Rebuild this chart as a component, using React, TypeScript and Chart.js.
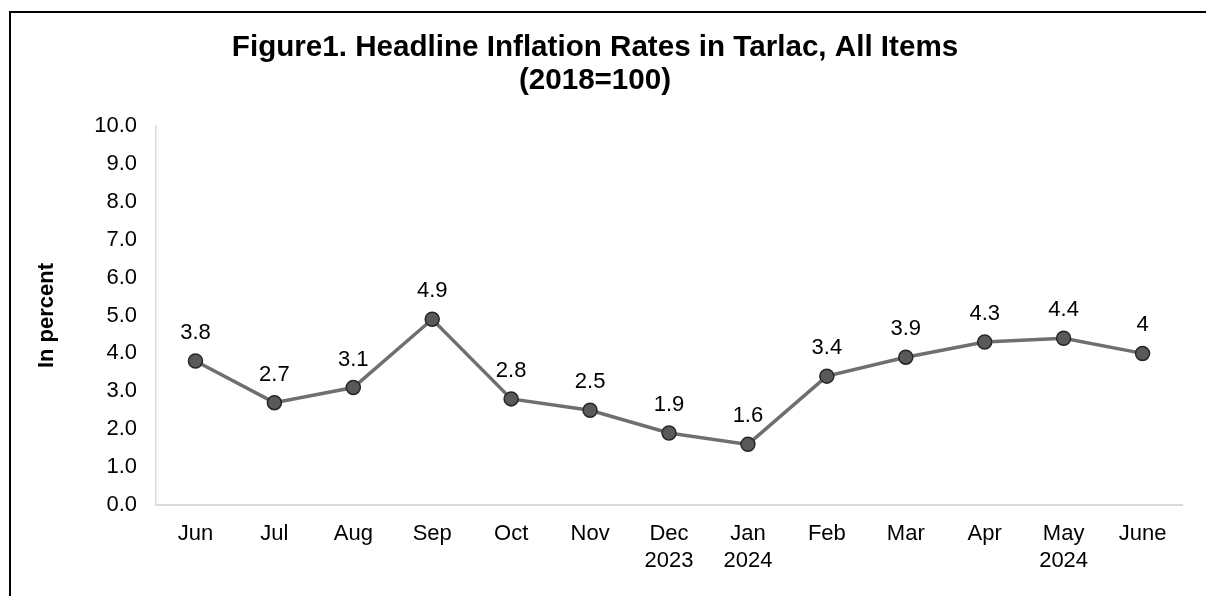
import React, { useEffect, useRef } from "react";
import { Chart, registerables } from "chart.js";

Chart.register(...registerables);

const categories: (string | string[])[] = [
  "Jun", "Jul", "Aug", "Sep", "Oct", "Nov", ["Dec", "2023"], ["Jan", "2024"],
  "Feb", "Mar", "Apr", ["May", "2024"], "June",
];
const inflationValues: number[] = [3.8, 2.7, 3.1, 4.9, 2.8, 2.5, 1.9, 1.6, 3.4, 3.9, 4.3, 4.4, 4];
const valueLabels: string[] = ["3.8", "2.7", "3.1", "4.9", "2.8", "2.5", "1.9", "1.6", "3.4", "3.9", "4.3", "4.4", "4"];
const titleLines: string[] = ["Figure1. Headline Inflation Rates in Tarlac, All Items", "(2018=100)"];
const yAxisTitle = "In percent";

const FONT = "'Liberation Sans', Arial, sans-serif";

const frameAndLabels = {
  id: "frameAndLabels",
  afterDraw(chart: any) {
    const { ctx } = chart;
    ctx.save();
    ctx.strokeStyle = "#000";
    ctx.lineWidth = 2;
    ctx.beginPath();
    ctx.moveTo(10, 600);
    ctx.lineTo(10, 12);
    ctx.lineTo(1210, 12);
    ctx.stroke();

    const meta = chart.getDatasetMeta(0);
    ctx.fillStyle = "#000";
    ctx.font = `22px ${FONT}`;
    ctx.textAlign = "center";
    ctx.textBaseline = "alphabetic";
    meta.data.forEach((pt: any, i: number) => {
      ctx.fillText(valueLabels[i], pt.x, pt.y - 22);
    });
    ctx.restore();
  },
};

export default function App() {
  const ref = useRef<HTMLCanvasElement | null>(null);
  useEffect(() => {
    if (!ref.current) return;
    const chart = new Chart(ref.current, {
      type: "line",
      data: {
        labels: categories,
        datasets: [
          {
            data: inflationValues,
            borderColor: "#6f6f6f",
            borderWidth: 3.5,
            pointRadius: 7,
            pointBackgroundColor: "#595959",
            pointBorderColor: "#262626",
            pointBorderWidth: 1.5,
            tension: 0,
          },
        ],
      },
      options: {
        animation: false,
        responsive: false,
        layout: { padding: { left: 8, right: 24, top: 12, bottom: 0 } },
        plugins: {
          legend: { display: false },
          tooltip: { enabled: false },
          title: {
            display: true,
            text: titleLines,
            color: "#000",
            font: { family: FONT, size: 29.6, weight: "bold", lineHeight: 33 / 29.6 },
            padding: { top: 19, bottom: 29 },
          },
        },
        scales: {
          x: {
            offset: true,
            grid: { display: false, drawTicks: false, offset: true },
            border: { display: true, color: "#d9d9d9", width: 2 },
            ticks: {
              color: "#000",
              font: { family: FONT, size: 22, lineHeight: 1.2 },
              padding: 16,
              maxRotation: 0,
              autoSkip: false,
            },
            afterFit: (s: any) => {
              s.height = 91;
            },
          },
          y: {
            min: 0,
            max: 10,
            grid: { display: false, drawTicks: false },
            border: { display: true, color: "#d9d9d9", width: 1.5 },
            ticks: {
              stepSize: 1,
              color: "#000",
              font: { family: FONT, size: 22 },
              padding: 19,
              callback: (v: any) => Number(v).toFixed(1),
            },
            title: {
              display: true,
              text: yAxisTitle,
              color: "#000",
              font: { family: FONT, size: 22, weight: "bold", lineHeight: 1.2 },
              padding: { top: 26, bottom: 0 },
            },
            afterFit: (s: any) => {
              s.width = 148;
            },
          },
        },
      },
      plugins: [frameAndLabels],
    });
    return () => chart.destroy();
  }, []);
  return (
    <div style={{ position: "fixed", left: 0, top: 0, width: 1206, height: 596, background: "#fff" }}>
      <canvas ref={ref} width={1206} height={596} style={{ display: "block" }} />
    </div>
  );
}
